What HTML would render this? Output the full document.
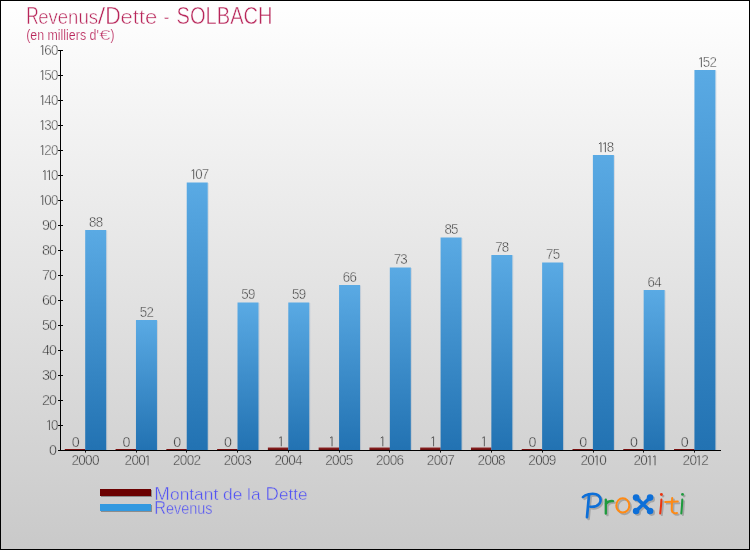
<!DOCTYPE html>
<html><head><meta charset="utf-8"><title>Revenus/Dette - SOLBACH</title>
<style>
html,body{margin:0;padding:0;background:#fff;}
body{width:750px;height:550px;overflow:hidden;font-family:"Liberation Sans",sans-serif;}
svg{display:block;}
text{font-family:"Liberation Sans",sans-serif;}
</style></head><body>
<svg width="750" height="550" viewBox="0 0 750 550">
<defs>
<linearGradient id="bg" x1="0" y1="0" x2="0" y2="1"><stop offset="0" stop-color="#ffffff"/><stop offset="1" stop-color="#c9c9c9"/></linearGradient>
<linearGradient id="bl" x1="0" y1="0" x2="0" y2="1"><stop offset="0" stop-color="#5aaae4"/><stop offset="1" stop-color="#2272b2"/></linearGradient>
<linearGradient id="rd" x1="0" y1="0" x2="0" y2="1"><stop offset="0" stop-color="#8e2828"/><stop offset="1" stop-color="#6a0c0c"/></linearGradient>
<filter id="sh" x="-10%" y="-20%" width="130%" height="150%"><feGaussianBlur stdDeviation="0.7"/></filter>
</defs>
<rect x="0" y="0" width="750" height="550" fill="url(#bg)"/>
<rect x="0.5" y="0.5" width="749" height="549" fill="none" stroke="#000" stroke-width="1"/>
<g opacity="0.999">

<text x="26.3" y="24.0" font-size="23.2px" fill="#b8265a" stroke="#fdfdfd" stroke-width="0.5" textLength="12.5" lengthAdjust="spacingAndGlyphs">R</text>
<text x="38.2" y="24.0" font-size="20.0px" fill="#b8265a" stroke="#fdfdfd" stroke-width="0.5" textLength="59.8" lengthAdjust="spacingAndGlyphs">evenus</text>
<text x="97.8" y="24.0" font-size="23.2px" fill="#b8265a" stroke="#fdfdfd" stroke-width="0.5" textLength="7.5" lengthAdjust="spacingAndGlyphs">/</text>
<text x="105.3" y="24.0" font-size="23.2px" fill="#b8265a" stroke="#fdfdfd" stroke-width="0.5" textLength="15.5" lengthAdjust="spacingAndGlyphs">D</text>
<text x="120.6" y="24.0" font-size="20.0px" fill="#b8265a" stroke="#fdfdfd" stroke-width="0.5" textLength="36.8" lengthAdjust="spacingAndGlyphs">ette</text>
<text x="163.8" y="23.5" font-size="20.0px" fill="#b8265a" stroke="#fdfdfd" stroke-width="0.5" textLength="5.6" lengthAdjust="spacingAndGlyphs">-</text>
<text x="176.6" y="24.0" font-size="23.2px" fill="#b8265a" stroke="#fdfdfd" stroke-width="0.5" textLength="96" lengthAdjust="spacingAndGlyphs">SOLBACH</text>
<text x="26.2" y="40.4" font-size="13.8px" fill="#b8265a" stroke="#fcfcfc" stroke-width="0.2" textLength="72.6" lengthAdjust="spacingAndGlyphs">(en milliers d'</text>
<text x="98.9" y="40.4" font-size="14.4px" fill="#b8265a" stroke="#fcfcfc" stroke-width="0.45" textLength="11.6" lengthAdjust="spacingAndGlyphs">€</text>
<text x="110.4" y="40.4" font-size="13.8px" fill="#b8265a" stroke="#fcfcfc" stroke-width="0.2" textLength="4.0" lengthAdjust="spacingAndGlyphs">)</text>
<rect x="64.80" y="449.00" width="20.50" height="1" fill="#7a1010"/>
<rect x="106.20" y="230.50" width="1" height="219.50" fill="#6f8fb0" opacity="0.22"/>
<rect x="85.20" y="230.00" width="21.00" height="220.00" fill="url(#bl)"/>
<text transform="translate(71.63,447.00) scale(1.0,1)" font-size="14.3px" fill="#1c1c1c" stroke="#d4d4d4" stroke-width="0.5">0</text>
<text transform="translate(89.02,227.15) scale(0.93,1)" font-size="14.3px" fill="#1c1c1c" stroke="#e9e9e9" stroke-width="0.5">8</text><text transform="translate(95.72,227.15) scale(0.93,1)" font-size="14.3px" fill="#1c1c1c" stroke="#e9e9e9" stroke-width="0.5">8</text>
<rect x="85" y="450" width="1" height="2.6" fill="#1a1a1a"/>
<text transform="translate(71.39,465.30) scale(0.95,1)" font-size="14.3px" fill="#1c1c1c" stroke="#d2d2d2" stroke-width="0.5">2</text><text transform="translate(78.24,465.30) scale(0.95,1)" font-size="14.3px" fill="#1c1c1c" stroke="#d2d2d2" stroke-width="0.5">0</text><text transform="translate(85.09,465.30) scale(0.95,1)" font-size="14.3px" fill="#1c1c1c" stroke="#d2d2d2" stroke-width="0.5">0</text><text transform="translate(91.94,465.30) scale(0.95,1)" font-size="14.3px" fill="#1c1c1c" stroke="#d2d2d2" stroke-width="0.5">0</text>
<rect x="115.57" y="449.00" width="20.50" height="1" fill="#7a1010"/>
<rect x="156.97" y="320.50" width="1" height="129.50" fill="#6f8fb0" opacity="0.22"/>
<rect x="135.97" y="320.00" width="21.00" height="130.00" fill="url(#bl)"/>
<text transform="translate(122.40,447.00) scale(1.0,1)" font-size="14.3px" fill="#1c1c1c" stroke="#d4d4d4" stroke-width="0.5">0</text>
<text transform="translate(139.79,317.15) scale(0.93,1)" font-size="14.3px" fill="#1c1c1c" stroke="#e0e0e0" stroke-width="0.5">5</text><text transform="translate(146.49,317.15) scale(0.93,1)" font-size="14.3px" fill="#1c1c1c" stroke="#e0e0e0" stroke-width="0.5">2</text>
<rect x="136" y="450" width="1" height="2.6" fill="#1a1a1a"/>
<text transform="translate(124.59,465.30) scale(0.95,1)" font-size="14.3px" fill="#1c1c1c" stroke="#d2d2d2" stroke-width="0.5">2</text><text transform="translate(131.44,465.30) scale(0.95,1)" font-size="14.3px" fill="#1c1c1c" stroke="#d2d2d2" stroke-width="0.5">0</text><text transform="translate(138.29,465.30) scale(0.95,1)" font-size="14.3px" fill="#1c1c1c" stroke="#d2d2d2" stroke-width="0.5">0</text><path d="M146.03 457.00 L148.08 455.75 L148.08 465.30" fill="none" stroke="#555" stroke-width="0.95" stroke-linejoin="miter"/>
<rect x="166.34" y="449.00" width="20.50" height="1" fill="#7a1010"/>
<rect x="207.74" y="183.00" width="1" height="267.00" fill="#6f8fb0" opacity="0.22"/>
<rect x="186.74" y="182.50" width="21.00" height="267.50" fill="url(#bl)"/>
<text transform="translate(173.17,447.00) scale(1.0,1)" font-size="14.3px" fill="#1c1c1c" stroke="#d4d4d4" stroke-width="0.5">0</text>
<path d="M191.64 170.85 L193.69 169.60 L193.69 179.15" fill="none" stroke="#555" stroke-width="0.95" stroke-linejoin="miter"/><text transform="translate(195.16,179.15) scale(0.93,1)" font-size="14.3px" fill="#1c1c1c" stroke="#eeeeee" stroke-width="0.5">0</text><text transform="translate(201.86,179.15) scale(0.93,1)" font-size="14.3px" fill="#1c1c1c" stroke="#eeeeee" stroke-width="0.5">7</text>
<rect x="186" y="450" width="1" height="2.6" fill="#1a1a1a"/>
<text transform="translate(172.93,465.30) scale(0.95,1)" font-size="14.3px" fill="#1c1c1c" stroke="#d2d2d2" stroke-width="0.5">2</text><text transform="translate(179.78,465.30) scale(0.95,1)" font-size="14.3px" fill="#1c1c1c" stroke="#d2d2d2" stroke-width="0.5">0</text><text transform="translate(186.63,465.30) scale(0.95,1)" font-size="14.3px" fill="#1c1c1c" stroke="#d2d2d2" stroke-width="0.5">0</text><text transform="translate(193.48,465.30) scale(0.95,1)" font-size="14.3px" fill="#1c1c1c" stroke="#d2d2d2" stroke-width="0.5">2</text>
<rect x="217.11" y="449.00" width="20.50" height="1" fill="#7a1010"/>
<rect x="258.51" y="303.00" width="1" height="147.00" fill="#6f8fb0" opacity="0.22"/>
<rect x="237.51" y="302.50" width="21.00" height="147.50" fill="url(#bl)"/>
<text transform="translate(223.94,447.00) scale(1.0,1)" font-size="14.3px" fill="#1c1c1c" stroke="#d4d4d4" stroke-width="0.5">0</text>
<text transform="translate(241.33,299.15) scale(0.93,1)" font-size="14.3px" fill="#1c1c1c" stroke="#e2e2e2" stroke-width="0.5">5</text><text transform="translate(248.03,299.15) scale(0.93,1)" font-size="14.3px" fill="#1c1c1c" stroke="#e2e2e2" stroke-width="0.5">9</text>
<rect x="237" y="450" width="1" height="2.6" fill="#1a1a1a"/>
<text transform="translate(223.70,465.30) scale(0.95,1)" font-size="14.3px" fill="#1c1c1c" stroke="#d2d2d2" stroke-width="0.5">2</text><text transform="translate(230.55,465.30) scale(0.95,1)" font-size="14.3px" fill="#1c1c1c" stroke="#d2d2d2" stroke-width="0.5">0</text><text transform="translate(237.40,465.30) scale(0.95,1)" font-size="14.3px" fill="#1c1c1c" stroke="#d2d2d2" stroke-width="0.5">0</text><text transform="translate(244.25,465.30) scale(0.95,1)" font-size="14.3px" fill="#1c1c1c" stroke="#d2d2d2" stroke-width="0.5">3</text>
<rect x="267.88" y="447.50" width="20.50" height="2.50" fill="url(#rd)"/>
<rect x="309.28" y="303.00" width="1" height="147.00" fill="#6f8fb0" opacity="0.22"/>
<rect x="288.28" y="302.50" width="21.00" height="147.50" fill="url(#bl)"/>
<path d="M279.23 438.00 L281.28 436.75 L281.28 446.30" fill="none" stroke="#555" stroke-width="0.95" stroke-linejoin="miter"/>
<text transform="translate(292.09,299.15) scale(0.93,1)" font-size="14.3px" fill="#1c1c1c" stroke="#e2e2e2" stroke-width="0.5">5</text><text transform="translate(298.79,299.15) scale(0.93,1)" font-size="14.3px" fill="#1c1c1c" stroke="#e2e2e2" stroke-width="0.5">9</text>
<rect x="288" y="450" width="1" height="2.6" fill="#1a1a1a"/>
<text transform="translate(274.47,465.30) scale(0.95,1)" font-size="14.3px" fill="#1c1c1c" stroke="#d2d2d2" stroke-width="0.5">2</text><text transform="translate(281.32,465.30) scale(0.95,1)" font-size="14.3px" fill="#1c1c1c" stroke="#d2d2d2" stroke-width="0.5">0</text><text transform="translate(288.17,465.30) scale(0.95,1)" font-size="14.3px" fill="#1c1c1c" stroke="#d2d2d2" stroke-width="0.5">0</text><text transform="translate(295.02,465.30) scale(0.95,1)" font-size="14.3px" fill="#1c1c1c" stroke="#d2d2d2" stroke-width="0.5">4</text>
<rect x="318.65" y="447.50" width="20.50" height="2.50" fill="url(#rd)"/>
<rect x="360.05" y="285.50" width="1" height="164.50" fill="#6f8fb0" opacity="0.22"/>
<rect x="339.05" y="285.00" width="21.00" height="165.00" fill="url(#bl)"/>
<path d="M330.00 438.00 L332.05 436.75 L332.05 446.30" fill="none" stroke="#555" stroke-width="0.95" stroke-linejoin="miter"/>
<text transform="translate(342.86,282.15) scale(0.93,1)" font-size="14.3px" fill="#1c1c1c" stroke="#e4e4e4" stroke-width="0.5">6</text><text transform="translate(349.56,282.15) scale(0.93,1)" font-size="14.3px" fill="#1c1c1c" stroke="#e4e4e4" stroke-width="0.5">6</text>
<rect x="339" y="450" width="1" height="2.6" fill="#1a1a1a"/>
<text transform="translate(325.24,465.30) scale(0.95,1)" font-size="14.3px" fill="#1c1c1c" stroke="#d2d2d2" stroke-width="0.5">2</text><text transform="translate(332.09,465.30) scale(0.95,1)" font-size="14.3px" fill="#1c1c1c" stroke="#d2d2d2" stroke-width="0.5">0</text><text transform="translate(338.94,465.30) scale(0.95,1)" font-size="14.3px" fill="#1c1c1c" stroke="#d2d2d2" stroke-width="0.5">0</text><text transform="translate(345.79,465.30) scale(0.95,1)" font-size="14.3px" fill="#1c1c1c" stroke="#d2d2d2" stroke-width="0.5">5</text>
<rect x="369.42" y="447.50" width="20.50" height="2.50" fill="url(#rd)"/>
<rect x="410.82" y="268.00" width="1" height="182.00" fill="#6f8fb0" opacity="0.22"/>
<rect x="389.82" y="267.50" width="21.00" height="182.50" fill="url(#bl)"/>
<path d="M380.77 438.00 L382.82 436.75 L382.82 446.30" fill="none" stroke="#555" stroke-width="0.95" stroke-linejoin="miter"/>
<text transform="translate(393.63,264.15) scale(0.93,1)" font-size="14.3px" fill="#1c1c1c" stroke="#e6e6e6" stroke-width="0.5">7</text><text transform="translate(400.33,264.15) scale(0.93,1)" font-size="14.3px" fill="#1c1c1c" stroke="#e6e6e6" stroke-width="0.5">3</text>
<rect x="389" y="450" width="1" height="2.6" fill="#1a1a1a"/>
<text transform="translate(376.01,465.30) scale(0.95,1)" font-size="14.3px" fill="#1c1c1c" stroke="#d2d2d2" stroke-width="0.5">2</text><text transform="translate(382.86,465.30) scale(0.95,1)" font-size="14.3px" fill="#1c1c1c" stroke="#d2d2d2" stroke-width="0.5">0</text><text transform="translate(389.71,465.30) scale(0.95,1)" font-size="14.3px" fill="#1c1c1c" stroke="#d2d2d2" stroke-width="0.5">0</text><text transform="translate(396.56,465.30) scale(0.95,1)" font-size="14.3px" fill="#1c1c1c" stroke="#d2d2d2" stroke-width="0.5">6</text>
<rect x="420.18" y="447.50" width="20.50" height="2.50" fill="url(#rd)"/>
<rect x="461.58" y="238.00" width="1" height="212.00" fill="#6f8fb0" opacity="0.22"/>
<rect x="440.58" y="237.50" width="21.00" height="212.50" fill="url(#bl)"/>
<path d="M431.53 438.00 L433.58 436.75 L433.58 446.30" fill="none" stroke="#555" stroke-width="0.95" stroke-linejoin="miter"/>
<text transform="translate(444.40,234.15) scale(0.93,1)" font-size="14.3px" fill="#1c1c1c" stroke="#e9e9e9" stroke-width="0.5">8</text><text transform="translate(451.10,234.15) scale(0.93,1)" font-size="14.3px" fill="#1c1c1c" stroke="#e9e9e9" stroke-width="0.5">5</text>
<rect x="440" y="450" width="1" height="2.6" fill="#1a1a1a"/>
<text transform="translate(426.78,465.30) scale(0.95,1)" font-size="14.3px" fill="#1c1c1c" stroke="#d2d2d2" stroke-width="0.5">2</text><text transform="translate(433.63,465.30) scale(0.95,1)" font-size="14.3px" fill="#1c1c1c" stroke="#d2d2d2" stroke-width="0.5">0</text><text transform="translate(440.48,465.30) scale(0.95,1)" font-size="14.3px" fill="#1c1c1c" stroke="#d2d2d2" stroke-width="0.5">0</text><text transform="translate(447.33,465.30) scale(0.95,1)" font-size="14.3px" fill="#1c1c1c" stroke="#d2d2d2" stroke-width="0.5">7</text>
<rect x="470.95" y="447.50" width="20.50" height="2.50" fill="url(#rd)"/>
<rect x="512.35" y="255.50" width="1" height="194.50" fill="#6f8fb0" opacity="0.22"/>
<rect x="491.35" y="255.00" width="21.00" height="195.00" fill="url(#bl)"/>
<path d="M482.30 438.00 L484.35 436.75 L484.35 446.30" fill="none" stroke="#555" stroke-width="0.95" stroke-linejoin="miter"/>
<text transform="translate(495.17,252.15) scale(0.93,1)" font-size="14.3px" fill="#1c1c1c" stroke="#e7e7e7" stroke-width="0.5">7</text><text transform="translate(501.87,252.15) scale(0.93,1)" font-size="14.3px" fill="#1c1c1c" stroke="#e7e7e7" stroke-width="0.5">8</text>
<rect x="491" y="450" width="1" height="2.6" fill="#1a1a1a"/>
<text transform="translate(477.55,465.30) scale(0.95,1)" font-size="14.3px" fill="#1c1c1c" stroke="#d2d2d2" stroke-width="0.5">2</text><text transform="translate(484.40,465.30) scale(0.95,1)" font-size="14.3px" fill="#1c1c1c" stroke="#d2d2d2" stroke-width="0.5">0</text><text transform="translate(491.25,465.30) scale(0.95,1)" font-size="14.3px" fill="#1c1c1c" stroke="#d2d2d2" stroke-width="0.5">0</text><text transform="translate(498.10,465.30) scale(0.95,1)" font-size="14.3px" fill="#1c1c1c" stroke="#d2d2d2" stroke-width="0.5">8</text>
<rect x="521.72" y="449.00" width="20.50" height="1" fill="#7a1010"/>
<rect x="563.12" y="263.00" width="1" height="187.00" fill="#6f8fb0" opacity="0.22"/>
<rect x="542.12" y="262.50" width="21.00" height="187.50" fill="url(#bl)"/>
<text transform="translate(528.55,447.00) scale(1.0,1)" font-size="14.3px" fill="#1c1c1c" stroke="#d4d4d4" stroke-width="0.5">0</text>
<text transform="translate(545.94,259.15) scale(0.93,1)" font-size="14.3px" fill="#1c1c1c" stroke="#e6e6e6" stroke-width="0.5">7</text><text transform="translate(552.64,259.15) scale(0.93,1)" font-size="14.3px" fill="#1c1c1c" stroke="#e6e6e6" stroke-width="0.5">5</text>
<rect x="542" y="450" width="1" height="2.6" fill="#1a1a1a"/>
<text transform="translate(528.31,465.30) scale(0.95,1)" font-size="14.3px" fill="#1c1c1c" stroke="#d2d2d2" stroke-width="0.5">2</text><text transform="translate(535.16,465.30) scale(0.95,1)" font-size="14.3px" fill="#1c1c1c" stroke="#d2d2d2" stroke-width="0.5">0</text><text transform="translate(542.01,465.30) scale(0.95,1)" font-size="14.3px" fill="#1c1c1c" stroke="#d2d2d2" stroke-width="0.5">0</text><text transform="translate(548.86,465.30) scale(0.95,1)" font-size="14.3px" fill="#1c1c1c" stroke="#d2d2d2" stroke-width="0.5">9</text>
<rect x="572.49" y="449.00" width="20.50" height="1" fill="#7a1010"/>
<rect x="613.89" y="155.50" width="1" height="294.50" fill="#6f8fb0" opacity="0.22"/>
<rect x="592.89" y="155.00" width="21.00" height="295.00" fill="url(#bl)"/>
<text transform="translate(579.32,447.00) scale(1.0,1)" font-size="14.3px" fill="#1c1c1c" stroke="#d4d4d4" stroke-width="0.5">0</text>
<path d="M598.94 143.85 L600.99 142.60 L600.99 152.15" fill="none" stroke="#555" stroke-width="0.95" stroke-linejoin="miter"/><path d="M603.34 143.85 L605.39 142.60 L605.39 152.15" fill="none" stroke="#555" stroke-width="0.95" stroke-linejoin="miter"/><text transform="translate(606.86,152.15) scale(0.93,1)" font-size="14.3px" fill="#1c1c1c" stroke="#f1f1f1" stroke-width="0.5">8</text>
<rect x="593" y="450" width="1" height="2.6" fill="#1a1a1a"/>
<text transform="translate(580.51,465.30) scale(0.95,1)" font-size="14.3px" fill="#1c1c1c" stroke="#d2d2d2" stroke-width="0.5">2</text><text transform="translate(587.36,465.30) scale(0.95,1)" font-size="14.3px" fill="#1c1c1c" stroke="#d2d2d2" stroke-width="0.5">0</text><path d="M595.10 457.00 L597.15 455.75 L597.15 465.30" fill="none" stroke="#555" stroke-width="0.95" stroke-linejoin="miter"/><text transform="translate(599.21,465.30) scale(0.95,1)" font-size="14.3px" fill="#1c1c1c" stroke="#d2d2d2" stroke-width="0.5">0</text>
<rect x="623.26" y="449.00" width="20.50" height="1" fill="#7a1010"/>
<rect x="664.66" y="290.50" width="1" height="159.50" fill="#6f8fb0" opacity="0.22"/>
<rect x="643.66" y="290.00" width="21.00" height="160.00" fill="url(#bl)"/>
<text transform="translate(630.09,447.00) scale(1.0,1)" font-size="14.3px" fill="#1c1c1c" stroke="#d4d4d4" stroke-width="0.5">0</text>
<text transform="translate(647.48,287.15) scale(0.93,1)" font-size="14.3px" fill="#1c1c1c" stroke="#e3e3e3" stroke-width="0.5">6</text><text transform="translate(654.18,287.15) scale(0.93,1)" font-size="14.3px" fill="#1c1c1c" stroke="#e3e3e3" stroke-width="0.5">4</text>
<rect x="643" y="450" width="1" height="2.6" fill="#1a1a1a"/>
<text transform="translate(633.40,465.30) scale(0.95,1)" font-size="14.3px" fill="#1c1c1c" stroke="#d2d2d2" stroke-width="0.5">2</text><text transform="translate(640.25,465.30) scale(0.95,1)" font-size="14.3px" fill="#1c1c1c" stroke="#d2d2d2" stroke-width="0.5">0</text><path d="M648.00 457.00 L650.05 455.75 L650.05 465.30" fill="none" stroke="#555" stroke-width="0.95" stroke-linejoin="miter"/><path d="M653.00 457.00 L655.05 455.75 L655.05 465.30" fill="none" stroke="#555" stroke-width="0.95" stroke-linejoin="miter"/>
<rect x="674.03" y="449.00" width="20.50" height="1" fill="#7a1010"/>
<rect x="715.43" y="70.50" width="1" height="379.50" fill="#6f8fb0" opacity="0.22"/>
<rect x="694.43" y="70.00" width="21.00" height="380.00" fill="url(#bl)"/>
<text transform="translate(680.86,447.00) scale(1.0,1)" font-size="14.3px" fill="#1c1c1c" stroke="#d4d4d4" stroke-width="0.5">0</text>
<path d="M699.33 58.85 L701.38 57.60 L701.38 67.15" fill="none" stroke="#555" stroke-width="0.95" stroke-linejoin="miter"/><text transform="translate(702.85,67.15) scale(0.93,1)" font-size="14.3px" fill="#1c1c1c" stroke="#f9f9f9" stroke-width="0.5">5</text><text transform="translate(709.55,67.15) scale(0.93,1)" font-size="14.3px" fill="#1c1c1c" stroke="#f9f9f9" stroke-width="0.5">2</text>
<rect x="694" y="450" width="1" height="2.6" fill="#1a1a1a"/>
<text transform="translate(682.55,465.30) scale(0.95,1)" font-size="14.3px" fill="#1c1c1c" stroke="#d2d2d2" stroke-width="0.5">2</text><text transform="translate(689.40,465.30) scale(0.95,1)" font-size="14.3px" fill="#1c1c1c" stroke="#d2d2d2" stroke-width="0.5">0</text><path d="M697.14 457.00 L699.19 455.75 L699.19 465.30" fill="none" stroke="#555" stroke-width="0.95" stroke-linejoin="miter"/><text transform="translate(701.25,465.30) scale(0.95,1)" font-size="14.3px" fill="#1c1c1c" stroke="#d2d2d2" stroke-width="0.5">2</text>
<rect x="60" y="50" width="1" height="401" fill="#000"/>
<rect x="58" y="450" width="663" height="1" fill="#000"/>
<rect x="58" y="450" width="5" height="1" fill="#000"/>
<text transform="translate(49.08,455.00) scale(1.0,1)" font-size="14.3px" fill="#1c1c1c" stroke="#d3d3d3" stroke-width="0.5">0</text>
<rect x="58" y="425" width="5" height="1" fill="#000"/>
<path d="M47.40 421.70 L49.45 420.45 L49.45 430.00" fill="none" stroke="#555" stroke-width="0.95" stroke-linejoin="miter"/><text transform="translate(50.92,430.00) scale(0.93,1)" font-size="14.3px" fill="#1c1c1c" stroke="#d5d5d5" stroke-width="0.5">0</text>
<rect x="58" y="400" width="5" height="1" fill="#000"/>
<text transform="translate(42.08,405.00) scale(1.0,1)" font-size="14.3px" fill="#1c1c1c" stroke="#d8d8d8" stroke-width="0.5">2</text><text transform="translate(49.08,405.00) scale(1.0,1)" font-size="14.3px" fill="#1c1c1c" stroke="#d8d8d8" stroke-width="0.5">0</text>
<rect x="58" y="375" width="5" height="1" fill="#000"/>
<text transform="translate(42.08,380.00) scale(1.0,1)" font-size="14.3px" fill="#1c1c1c" stroke="#dadada" stroke-width="0.5">3</text><text transform="translate(49.08,380.00) scale(1.0,1)" font-size="14.3px" fill="#1c1c1c" stroke="#dadada" stroke-width="0.5">0</text>
<rect x="58" y="350" width="5" height="1" fill="#000"/>
<text transform="translate(42.08,355.00) scale(1.0,1)" font-size="14.3px" fill="#1c1c1c" stroke="#dddddd" stroke-width="0.5">4</text><text transform="translate(49.08,355.00) scale(1.0,1)" font-size="14.3px" fill="#1c1c1c" stroke="#dddddd" stroke-width="0.5">0</text>
<rect x="58" y="325" width="5" height="1" fill="#000"/>
<text transform="translate(42.08,330.00) scale(1.0,1)" font-size="14.3px" fill="#1c1c1c" stroke="#dfdfdf" stroke-width="0.5">5</text><text transform="translate(49.08,330.00) scale(1.0,1)" font-size="14.3px" fill="#1c1c1c" stroke="#dfdfdf" stroke-width="0.5">0</text>
<rect x="58" y="300" width="5" height="1" fill="#000"/>
<text transform="translate(42.08,305.00) scale(1.0,1)" font-size="14.3px" fill="#1c1c1c" stroke="#e2e2e2" stroke-width="0.5">6</text><text transform="translate(49.08,305.00) scale(1.0,1)" font-size="14.3px" fill="#1c1c1c" stroke="#e2e2e2" stroke-width="0.5">0</text>
<rect x="58" y="275" width="5" height="1" fill="#000"/>
<text transform="translate(42.08,280.00) scale(1.0,1)" font-size="14.3px" fill="#1c1c1c" stroke="#e4e4e4" stroke-width="0.5">7</text><text transform="translate(49.08,280.00) scale(1.0,1)" font-size="14.3px" fill="#1c1c1c" stroke="#e4e4e4" stroke-width="0.5">0</text>
<rect x="58" y="250" width="5" height="1" fill="#000"/>
<text transform="translate(42.08,255.00) scale(1.0,1)" font-size="14.3px" fill="#1c1c1c" stroke="#e6e6e6" stroke-width="0.5">8</text><text transform="translate(49.08,255.00) scale(1.0,1)" font-size="14.3px" fill="#1c1c1c" stroke="#e6e6e6" stroke-width="0.5">0</text>
<rect x="58" y="225" width="5" height="1" fill="#000"/>
<text transform="translate(42.08,230.00) scale(1.0,1)" font-size="14.3px" fill="#1c1c1c" stroke="#e9e9e9" stroke-width="0.5">9</text><text transform="translate(49.08,230.00) scale(1.0,1)" font-size="14.3px" fill="#1c1c1c" stroke="#e9e9e9" stroke-width="0.5">0</text>
<rect x="58" y="200" width="5" height="1" fill="#000"/>
<path d="M40.70 196.70 L42.75 195.45 L42.75 205.00" fill="none" stroke="#555" stroke-width="0.95" stroke-linejoin="miter"/><text transform="translate(44.22,205.00) scale(0.93,1)" font-size="14.3px" fill="#1c1c1c" stroke="#ebebeb" stroke-width="0.5">0</text><text transform="translate(50.92,205.00) scale(0.93,1)" font-size="14.3px" fill="#1c1c1c" stroke="#ebebeb" stroke-width="0.5">0</text>
<rect x="58" y="175" width="5" height="1" fill="#000"/>
<path d="M43.00 171.70 L45.05 170.45 L45.05 180.00" fill="none" stroke="#555" stroke-width="0.95" stroke-linejoin="miter"/><path d="M47.40 171.70 L49.45 170.45 L49.45 180.00" fill="none" stroke="#555" stroke-width="0.95" stroke-linejoin="miter"/><text transform="translate(50.92,180.00) scale(0.93,1)" font-size="14.3px" fill="#1c1c1c" stroke="#eeeeee" stroke-width="0.5">0</text>
<rect x="58" y="150" width="5" height="1" fill="#000"/>
<path d="M40.70 146.70 L42.75 145.45 L42.75 155.00" fill="none" stroke="#555" stroke-width="0.95" stroke-linejoin="miter"/><text transform="translate(44.22,155.00) scale(0.93,1)" font-size="14.3px" fill="#1c1c1c" stroke="#f0f0f0" stroke-width="0.5">2</text><text transform="translate(50.92,155.00) scale(0.93,1)" font-size="14.3px" fill="#1c1c1c" stroke="#f0f0f0" stroke-width="0.5">0</text>
<rect x="58" y="125" width="5" height="1" fill="#000"/>
<path d="M40.70 121.70 L42.75 120.45 L42.75 130.00" fill="none" stroke="#555" stroke-width="0.95" stroke-linejoin="miter"/><text transform="translate(44.22,130.00) scale(0.93,1)" font-size="14.3px" fill="#1c1c1c" stroke="#f3f3f3" stroke-width="0.5">3</text><text transform="translate(50.92,130.00) scale(0.93,1)" font-size="14.3px" fill="#1c1c1c" stroke="#f3f3f3" stroke-width="0.5">0</text>
<rect x="58" y="100" width="5" height="1" fill="#000"/>
<path d="M40.70 96.70 L42.75 95.45 L42.75 105.00" fill="none" stroke="#555" stroke-width="0.95" stroke-linejoin="miter"/><text transform="translate(44.22,105.00) scale(0.93,1)" font-size="14.3px" fill="#1c1c1c" stroke="#f5f5f5" stroke-width="0.5">4</text><text transform="translate(50.92,105.00) scale(0.93,1)" font-size="14.3px" fill="#1c1c1c" stroke="#f5f5f5" stroke-width="0.5">0</text>
<rect x="58" y="75" width="5" height="1" fill="#000"/>
<path d="M40.70 71.70 L42.75 70.45 L42.75 80.00" fill="none" stroke="#555" stroke-width="0.95" stroke-linejoin="miter"/><text transform="translate(44.22,80.00) scale(0.93,1)" font-size="14.3px" fill="#1c1c1c" stroke="#f8f8f8" stroke-width="0.5">5</text><text transform="translate(50.92,80.00) scale(0.93,1)" font-size="14.3px" fill="#1c1c1c" stroke="#f8f8f8" stroke-width="0.5">0</text>
<rect x="58" y="50" width="5" height="1" fill="#000"/>
<path d="M40.70 46.70 L42.75 45.45 L42.75 55.00" fill="none" stroke="#555" stroke-width="0.95" stroke-linejoin="miter"/><text transform="translate(44.22,55.00) scale(0.93,1)" font-size="14.3px" fill="#1c1c1c" stroke="#fafafa" stroke-width="0.5">6</text><text transform="translate(50.92,55.00) scale(0.93,1)" font-size="14.3px" fill="#1c1c1c" stroke="#fafafa" stroke-width="0.5">0</text>
<rect x="101" y="490" width="51" height="7" fill="#8c8c8c"/>
<rect x="100" y="489" width="51" height="7" fill="#6b0000"/>
<rect x="101" y="505" width="51" height="7" fill="#8c8c8c"/>
<rect x="100" y="504" width="51" height="7" fill="#3399e0"/>
<text x="154.3" y="499.6" font-size="18.2px" fill="#5252f4" stroke="#cfcfcf" stroke-width="0.45" textLength="15.6" lengthAdjust="spacingAndGlyphs">M</text>
<text x="170.0" y="499.6" font-size="16.4px" fill="#5252f4" stroke="#cfcfcf" stroke-width="0.4" textLength="90.6" lengthAdjust="spacingAndGlyphs">ontant de la</text>
<text x="265.6" y="499.6" font-size="18.2px" fill="#5252f4" stroke="#cfcfcf" stroke-width="0.45" textLength="13.4" lengthAdjust="spacingAndGlyphs">D</text>
<text x="279.0" y="499.6" font-size="16.4px" fill="#5252f4" stroke="#cfcfcf" stroke-width="0.4" textLength="28.6" lengthAdjust="spacingAndGlyphs">ette</text>
<text x="154.3" y="513.6" font-size="18.2px" fill="#5252f4" stroke="#cdcdcd" stroke-width="0.45" textLength="11.8" lengthAdjust="spacingAndGlyphs">R</text>
<text x="166.0" y="513.6" font-size="16.4px" fill="#5252f4" stroke="#cdcdcd" stroke-width="0.4" textLength="46.6" lengthAdjust="spacingAndGlyphs">evenus</text>
</g>
<g transform="translate(1.6,1.6)" filter="url(#sh)" opacity="0.6">
<g fill="none" stroke-linecap="round" stroke-linejoin="round" stroke-width="2.35">
<path d="M582.9 497.2 C585.5 494.6 591.5 493.1 596 494.2 C600.6 495.4 601.9 500.6 599.2 503.8 C597 506.3 593.3 507 590.3 506.7" stroke="#8a8a8a" stroke-width="2.6"/>
<path d="M589.1 494.3 C588.4 502 587.6 510 587 517.2" stroke="#8a8a8a" stroke-width="2.7"/>
<path d="M605.8 499.6 L605.8 513.6" stroke="#8a8a8a"/>
<path d="M606 503.8 C607.6 501.8 610.2 500.8 613.1 501.1" stroke="#8a8a8a"/>
<ellipse cx="622.8" cy="505.4" rx="6.5" ry="7.2" stroke="#8a8a8a" stroke-width="2.0"/>
<path d="M636.1 497.6 L650.1 511 M650.1 497.6 L636.1 511" stroke="#8a8a8a" stroke-width="3.5"/>
<path d="M661.4 499.6 C661.2 504 660.8 509 660.2 513.4" stroke="#8a8a8a" stroke-width="2.05"/>
<path d="M672.2 498 C672 502 671.6 507 671.8 510.5 C672.2 513 675 513.6 677 513" stroke="#8a8a8a" stroke-width="2.05"/>
<path d="M665.2 502 L677.8 501.6" stroke="#8a8a8a" stroke-width="2.05"/>
<path d="M682.3 499.6 C682.1 504 681.8 509 681.3 513.4" stroke="#8a8a8a" stroke-width="2.05"/>
</g>
<g stroke="none">
<circle cx="636.1" cy="497.6" r="3.3" fill="#8a8a8a"/><circle cx="650.1" cy="497.6" r="3.3" fill="#8a8a8a"/>
<circle cx="636.1" cy="511" r="3.3" fill="#8a8a8a"/><circle cx="650.1" cy="511" r="3.3" fill="#8a8a8a"/>
<circle cx="661.4" cy="494.5" r="1.45" fill="#8a8a8a"/>
<circle cx="682.5" cy="494.4" r="1.45" fill="#8a8a8a"/>
</g>
</g>

<g fill="none" stroke-linecap="round" stroke-linejoin="round" stroke-width="2.35">
<path d="M582.9 497.2 C585.5 494.6 591.5 493.1 596 494.2 C600.6 495.4 601.9 500.6 599.2 503.8 C597 506.3 593.3 507 590.3 506.7" stroke="#0d6fd8" stroke-width="2.6"/>
<path d="M589.1 494.3 C588.4 502 587.6 510 587 517.2" stroke="#0d6fd8" stroke-width="2.7"/>
<path d="M605.8 499.6 L605.8 513.6" stroke="#1f9a3e"/>
<path d="M606 503.8 C607.6 501.8 610.2 500.8 613.1 501.1" stroke="#1f9a3e"/>
<ellipse cx="622.8" cy="505.4" rx="6.5" ry="7.2" stroke="#ff8a14" stroke-width="2.0"/>
<path d="M636.1 497.6 L650.1 511 M650.1 497.6 L636.1 511" stroke="#0d6fd8" stroke-width="3.5"/>
<path d="M661.4 499.6 C661.2 504 660.8 509 660.2 513.4" stroke="#ea3410" stroke-width="2.05"/>
<path d="M672.2 498 C672 502 671.6 507 671.8 510.5 C672.2 513 675 513.6 677 513" stroke="#ff8a14" stroke-width="2.05"/>
<path d="M665.2 502 L677.8 501.6" stroke="#ff8a14" stroke-width="2.05"/>
<path d="M682.3 499.6 C682.1 504 681.8 509 681.3 513.4" stroke="#1f9a3e" stroke-width="2.05"/>
</g>
<g stroke="none">
<circle cx="636.1" cy="497.6" r="3.3" fill="#0d6fd8"/><circle cx="650.1" cy="497.6" r="3.3" fill="#0d6fd8"/>
<circle cx="636.1" cy="511" r="3.3" fill="#0d6fd8"/><circle cx="650.1" cy="511" r="3.3" fill="#0d6fd8"/>
<circle cx="661.4" cy="494.5" r="1.45" fill="#ea3410"/>
<circle cx="682.5" cy="494.4" r="1.45" fill="#1f9a3e"/>
</g>

</svg></body></html>
